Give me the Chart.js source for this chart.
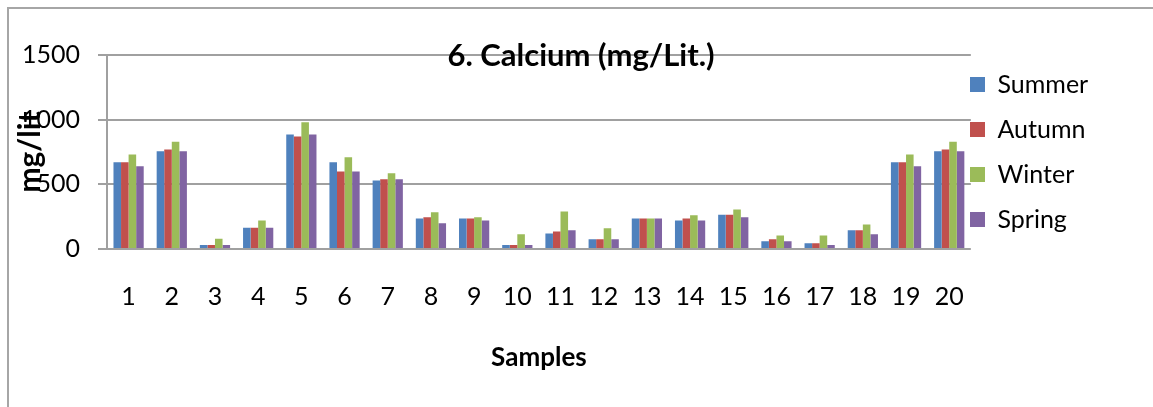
<!DOCTYPE html>
<html>
<head>
<meta charset="utf-8">
<script src="https://cdn.jsdelivr.net/npm/chart.js@4/dist/chart.umd.min.js"></script>
<style>
    html, body { margin: 0; padding: 0; background: #fff; }
    #wrap { position: relative; width: 1153px; height: 407px; }
    #frame {
        position: absolute; left: 7px; top: 7px; right: 0; bottom: 0;
        border-left: 2px solid #a6a6a6; border-top: 2px solid #a6a6a6;
        pointer-events: none;
    }
</style>
</head>
<body>
<div id="wrap">
    <canvas id="calcium" width="1153" height="407"></canvas>
    <div id="frame"></div>
</div>
<script>
const samples = ['1', '2', '3', '4', '5', '6', '7', '8', '9', '10',
    '11', '12', '13', '14', '15', '16', '17', '18', '19', '20'];

const summer = [670, 755, 30, 165, 885, 670, 530, 235, 235, 30, 120, 75, 235, 220, 265, 60, 45, 145, 670, 755];
const autumn = [670, 770, 30, 165, 870, 600, 540, 245, 235, 30, 135, 75, 235, 235, 265, 75, 45, 145, 670, 770];
const winter = [730, 830, 80, 220, 980, 710, 585, 285, 245, 115, 290, 160, 235, 260, 305, 105, 105, 190, 730, 830];
const spring = [640, 755, 30, 165, 885, 600, 540, 200, 220, 30, 145, 75, 235, 220, 245, 60, 30, 115, 640, 755];

const yTicks = [0, 500, 1000, 1500];

const chartTitle = '6. Calcium (mg/Lit.)';
const fontFamily = 'Lato, "Open Sans", sans-serif';
const gridColor = '#a0a0a0';

// title sits on top of the 1500 gridline, like the original
const titleOnGrid = {
    id: 'titleOnGrid',
    afterDraw(chart) {
        const ctx = chart.ctx;
        ctx.save();
        ctx.font = 'bold 31px ' + fontFamily;
        ctx.fillStyle = '#000';
        ctx.textAlign = 'center';
        ctx.textBaseline = 'middle';
        ctx.fillText(chartTitle, 581, chart.scales.y.getPixelForValue(1500) + 1);
        ctx.restore();
    }
};

// pull the legend a little left so its boxes start right after the plot
const legendNudge = {
    id: 'legendNudge',
    afterLayout(chart) {
        const lg = chart.legend;
        const dx = (lg.left + 20) - 970;
        lg.left -= dx;
        lg.right -= dx;
        lg.top -= 3;
        lg.bottom -= 3;
    }
};

function series(label, data, color) {
    return {
        label: label,
        data: data,
        backgroundColor: color,
        borderWidth: 0,
        categoryPercentage: 0.7,
        barPercentage: 1.0
    };
}

new Chart(document.getElementById('calcium'), {
    type: 'bar',
    data: {
        labels: samples,
        datasets: [
            series('Summer', summer, '#4f81bd'),
            series('Autumn', autumn, '#c0504d'),
            series('Winter', winter, '#9bbb59'),
            series('Spring', spring, '#8064a2')
        ]
    },
    plugins: [titleOnGrid, legendNudge],
    options: {
        responsive: false,
        animation: false,
        layout: { padding: { top: 55, left: 0, right: 34, bottom: 0 } },
        plugins: {
            tooltip: { enabled: false },
            title: { display: false },
            legend: {
                position: 'right',
                align: 'start',
                labels: {
                    boxWidth: 15,
                    boxHeight: 15,
                    padding: 20,
                    color: '#000',
                    font: { family: fontFamily, size: 25 }
                }
            }
        },
        scales: {
            x: {
                afterFit(scale) { scale.height = 407 - 249; },
                grid: { display: false, drawTicks: false },
                border: { display: false },
                ticks: {
                    color: '#000',
                    padding: 33,
                    maxRotation: 0,
                    autoSkip: false,
                    font: { family: fontFamily, size: 25 }
                },
                title: {
                    display: true,
                    text: 'Samples',
                    color: '#000',
                    padding: { top: 0, bottom: 34 },
                    font: { family: fontFamily, size: 26, weight: 'bold' }
                }
            },
            y: {
                min: 0,
                max: 1500,
                afterFit(scale) { scale.width = 107; },
                afterBuildTicks(scale) {
                    scale.ticks = yTicks.map(v => ({ value: v }));
                },
                grid: { color: gridColor, lineWidth: 2, tickLength: 9 },
                border: { color: gridColor, width: 2 },
                ticks: {
                    color: '#000',
                    padding: 18,
                    font: { family: fontFamily, size: 25 },
                    callback: v => String(v)
                },
                title: {
                    display: true,
                    text: 'mg/lit',
                    color: '#000',
                    padding: { top: 12, bottom: 0 },
                    font: { family: fontFamily, size: 30, weight: 'bold' }
                }
            }
        }
    }
});
</script>
</body>
</html>
